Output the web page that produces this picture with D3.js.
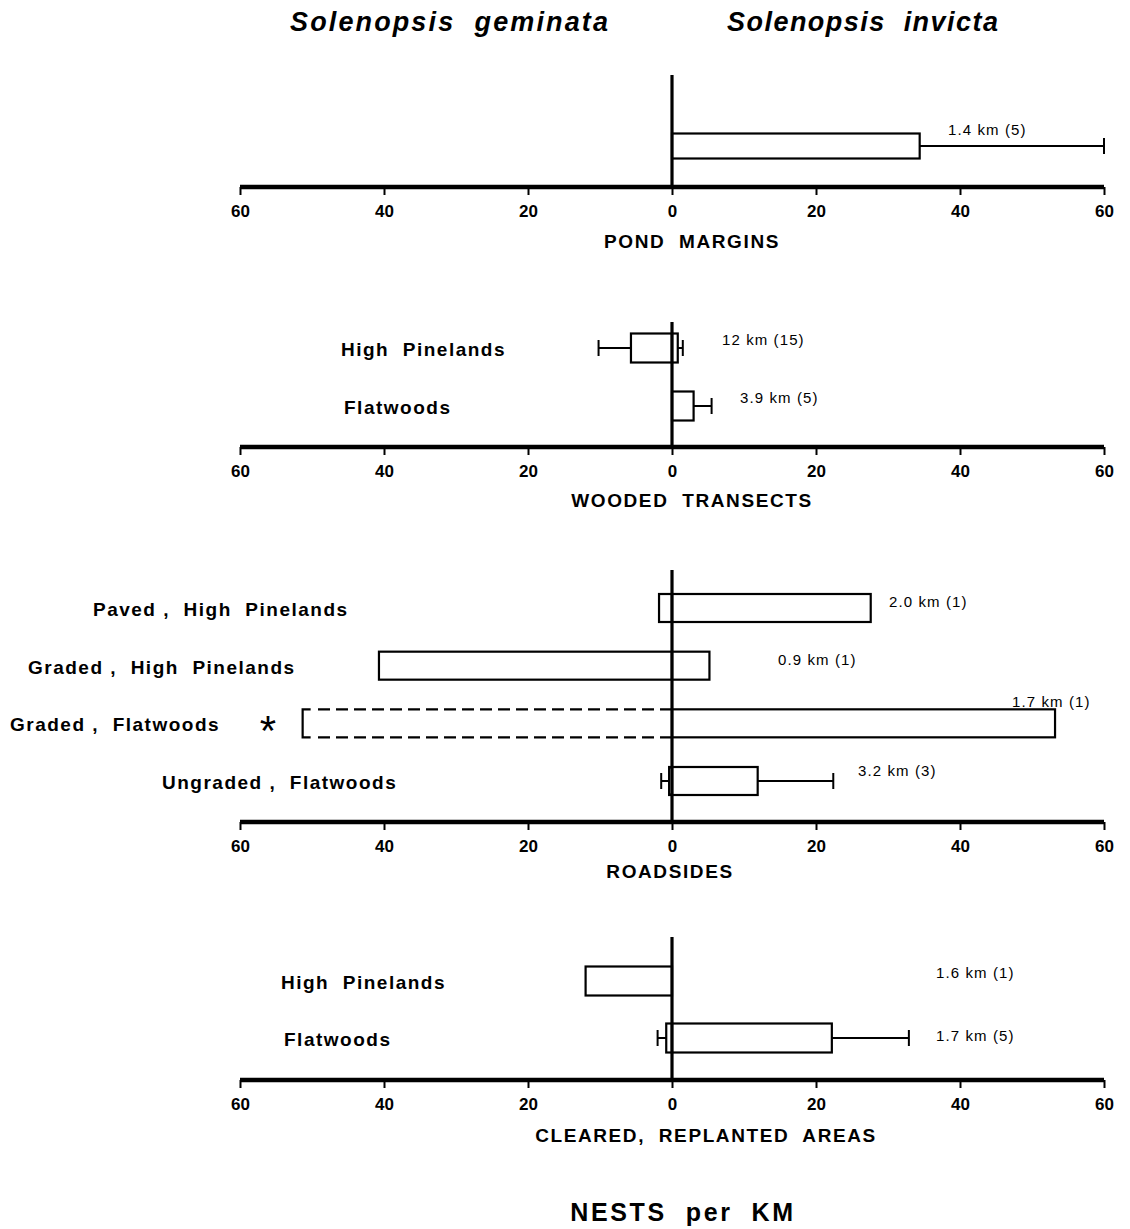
<!DOCTYPE html>
<html>
<head>
<meta charset="utf-8">
<script src="https://cdn.jsdelivr.net/npm/d3@7"></script>
<style>
  html, body { margin: 0; padding: 0; background: #fff; }
  svg { display: block; }
  text { font-family: "Liberation Sans", Arial, sans-serif; fill: #000; }
</style>
</head>
<body>
<svg id="chart" width="1130" height="1229"></svg>
<script>
// ---------------- DATA ----------------
const speciesLeft = "Solenopsis  geminata";
const speciesRight = "Solenopsis  invicta";
const unitLabel = "NESTS  per  KM";
const tickValues = [-60, -40, -20, 0, 20, 40, 60];
const panelTitles = ["POND  MARGINS", "WOODED  TRANSECTS", "ROADSIDES", "CLEARED,  REPLANTED  AREAS"];
const categories = [
  ["Pond margins"],
  ["High  Pinelands", "Flatwoods"],
  ["Paved ,  High  Pinelands", "Graded ,  High  Pinelands", "Graded ,  Flatwoods", "Ungraded ,  Flatwoods"],
  ["High  Pinelands", "Flatwoods"]
];
const showCategoryLabel = [false, true, true, true];
// nests per km, S. geminata (drawn to the left)
const geminata = [[0], [5.7, 0], [1.8, 40.7, 51.3, 0.4], [12.0, 0.8]];
const geminataErr = [[null], [10.2, null], [null, null, null, 1.5], [null, 2.0]];
const geminataDashed = [[false], [false, false], [false, false, true, false], [false, false]];
// nests per km, S. invicta (drawn to the right)
const invicta = [[34.4], [0.8, 3.0], [27.6, 5.2, 53.2, 11.9], [0, 22.2]];
const invictaErr = [[60], [1.5, 5.5], [null, null, null, 22.4], [null, 32.9]];
// transect length sampled (number of transects)
const transectLabels = [["1.4 km (5)"], ["12 km (15)", "3.9 km (5)"],
  ["2.0 km (1)", "0.9 km (1)", "1.7 km (1)", "3.2 km (3)"], ["1.6 km (1)", "1.7 km (5)"]];
const asteriskRow = [null, null, 2, null];

// ---------------- LAYOUT ----------------
const layout = {
  axisY: [187, 447, 822, 1080],
  zeroTop: [75, 322, 570, 937],
  firstRow: [146, 348, 608, 981],
  lastRow: [146, 406, 781, 1038],
  barH: [25, 29, 28, 29],
  titleY: [248, 507, 878, 1142],
  catX: [[0], [341, 344], [93, 28, 10, 162], [281, 284]],
  kmX: [[948], [722, 740], [889, 778, 1012, 858], [936, 936]],
  kmDy: [[-16], [-8, -8], [-6, -6, -21, -10], [-8, -2]]
};

const svg = d3.select("#chart");
const x = d3.scaleLinear().domain([-60, 60]).range([240, 1104]);

// species headings
svg.append("text").attr("x", 290).attr("y", 31)
  .attr("font-size", 27).attr("font-weight", "bold").attr("font-style", "italic")
  .attr("textLength", 318).attr("lengthAdjust", "spacing")
  .style("white-space", "pre").text(speciesLeft);
svg.append("text").attr("x", 727).attr("y", 31)
  .attr("font-size", 27).attr("font-weight", "bold").attr("font-style", "italic")
  .attr("textLength", 271).attr("lengthAdjust", "spacing")
  .style("white-space", "pre").text(speciesRight);

panelTitles.forEach((title, p) => {
  const g = svg.append("g");
  const y = d3.scalePoint().domain(categories[p]).range([layout.firstRow[p], layout.lastRow[p]]);
  const bh = layout.barH[p];

  // axis
  const axis = d3.axisBottom(x).tickValues(tickValues)
    .tickFormat(d => Math.abs(d)).tickSize(8).tickSizeOuter(0).tickPadding(10);
  const ag = g.append("g").attr("transform", `translate(0,${layout.axisY[p]})`).call(axis);
  ag.select(".domain").attr("stroke", "#000").attr("stroke-width", 4.5)
    .attr("d", `M${x(-60)},0H${x(60)}`);
  ag.selectAll(".tick line").attr("stroke", "#000").attr("stroke-width", 2);
  ag.selectAll(".tick text").attr("font-size", 17).attr("font-weight", "bold")
    .attr("font-family", "'Liberation Sans', Arial, sans-serif").attr("fill", "#000");

  // bars
  categories[p].forEach((c, i) => {
    const cy = y(c);
    const gv = geminata[p][i], iv = invicta[p][i];
    if (gv > 0) {
      if (geminataDashed[p][i]) {
        const x0 = x(-gv), x1 = x(0);
        g.append("path")
          .attr("d", `M${x1},${cy - bh / 2}H${x0 + 12}M${x1},${cy + bh / 2}H${x0 + 12}`)
          .attr("fill", "none").attr("stroke", "#000").attr("stroke-width", 2.2)
          .attr("stroke-dasharray", "12,6");
        g.append("path")
          .attr("d", `M${x0 + 8},${cy - bh / 2}H${x0}V${cy + bh / 2}H${x0 + 8}`)
          .attr("fill", "none").attr("stroke", "#000").attr("stroke-width", 2.2);
      } else {
        g.append("rect").attr("x", x(-gv)).attr("y", cy - bh / 2)
          .attr("width", x(0) - x(-gv)).attr("height", bh)
          .attr("fill", "#fff").attr("stroke", "#000").attr("stroke-width", 2.2);
      }
    }
    if (iv > 0) {
      g.append("rect").attr("x", x(0)).attr("y", cy - bh / 2)
        .attr("width", x(iv) - x(0)).attr("height", bh)
        .attr("fill", "#fff").attr("stroke", "#000").attr("stroke-width", 2.2);
    }
    const ge = geminataErr[p][i];
    if (ge != null) {
      g.append("line").attr("x1", x(-gv)).attr("x2", x(-ge)).attr("y1", cy).attr("y2", cy)
        .attr("stroke", "#000").attr("stroke-width", 2);
      g.append("line").attr("x1", x(-ge)).attr("x2", x(-ge)).attr("y1", cy - 8).attr("y2", cy + 8)
        .attr("stroke", "#000").attr("stroke-width", 2);
    }
    const ie = invictaErr[p][i];
    if (ie != null) {
      g.append("line").attr("x1", x(iv)).attr("x2", x(ie)).attr("y1", cy).attr("y2", cy)
        .attr("stroke", "#000").attr("stroke-width", 2);
      g.append("line").attr("x1", x(ie)).attr("x2", x(ie)).attr("y1", cy - 8).attr("y2", cy + 8)
        .attr("stroke", "#000").attr("stroke-width", 2);
    }
    // category label
    if (showCategoryLabel[p]) {
      g.append("text").attr("x", layout.catX[p][i]).attr("y", cy + 8)
        .attr("font-size", 19).attr("font-weight", "bold").attr("letter-spacing", 1.5)
        .style("white-space", "pre").text(c);
    }
    // transect label
    g.append("text").attr("x", layout.kmX[p][i]).attr("y", cy + layout.kmDy[p][i] + 5)
      .attr("font-size", 15).attr("letter-spacing", 1.1)
      .style("white-space", "pre").text(transectLabels[p][i]);
    if (asteriskRow[p] === i) {
      g.append("text").attr("x", 268).attr("y", cy + 22).attr("text-anchor", "middle")
        .attr("font-size", 42).attr("font-family", "'DejaVu Sans', sans-serif")
        .text("*");
    }
  });

  // zero line
  g.append("line").attr("x1", x(0)).attr("x2", x(0))
    .attr("y1", layout.zeroTop[p]).attr("y2", layout.axisY[p])
    .attr("stroke", "#000").attr("stroke-width", 3.2);

  // panel title
  const cx = p === 2 ? 670 : (p === 3 ? 706 : 692);
  g.append("text").attr("x", cx).attr("y", layout.titleY[p]).attr("text-anchor", "middle")
    .attr("font-size", 19).attr("font-weight", "bold").attr("letter-spacing", 1.6)
    .style("white-space", "pre").text(title);
});

svg.append("text").attr("x", 683).attr("y", 1221).attr("text-anchor", "middle")
  .attr("font-size", 25).attr("font-weight", "bold").attr("letter-spacing", 2.6)
  .style("white-space", "pre").text(unitLabel);
</script>
</body>
</html>
